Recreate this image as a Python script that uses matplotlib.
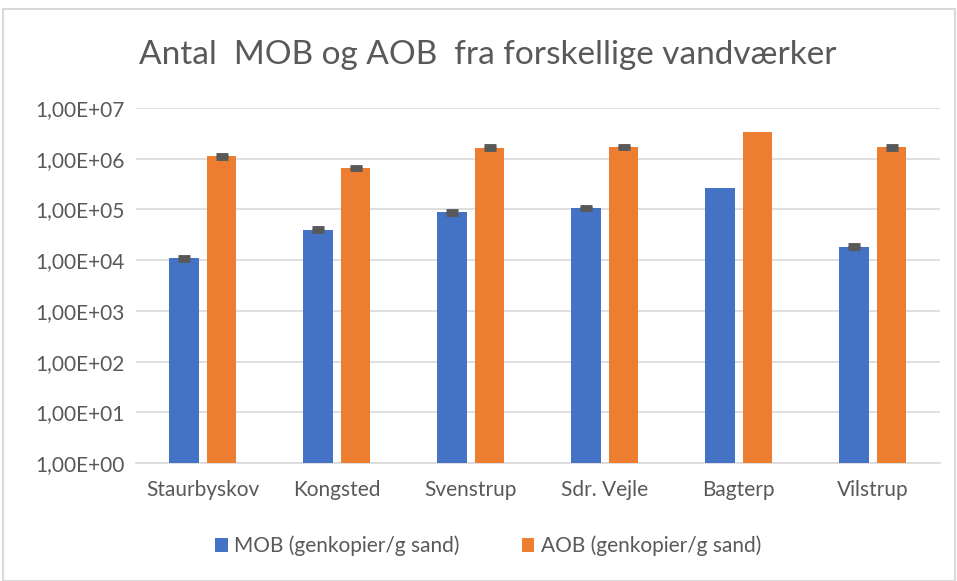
import numpy as np
import matplotlib.pyplot as plt
from matplotlib.ticker import FuncFormatter
from matplotlib.patches import Rectangle

# data
sites = ["Staurbyskov", "Kongsted", "Svenstrup", "Sdr. Vejle", "Bagterp", "Vilstrup"]
mob = [1.09e4, 4.0e4, 8.9e4, 1.07e5, 2.6e5, 1.85e4]
aob = [1.12e6, 6.6e5, 1.65e6, 1.72e6, 3.4e6, 1.68e6]
mob_err = [8e2, 2.5e3, 6e3, 6e3, np.nan, 1.2e3]
aob_err = [7e4, 4e4, 1e5, 1e5, np.nan, 1e5]

blue = "#4472C4"
orange = "#ED7D31"
text_col = "#595959"

plt.rcParams["font.family"] = ["Lato", "DejaVu Sans"]

fig = plt.figure(figsize=(9.57, 5.81), dpi=100)
ax = fig.add_axes([0.142, 0.203, 0.840, 0.611])

x = np.arange(len(sites))
w = 0.22
off = 0.28 / 2
ax.bar(x - off, mob, w, color=blue, label="MOB (genkopier/g sand)", zorder=3)
ax.bar(x + off, aob, w, color=orange, label="AOB (genkopier/g sand)", zorder=3)

# error bars only where there are any (Bagterp has none)
has_err = ~np.isnan(mob_err)
err_kw = dict(fmt="none", ecolor="#595959", capsize=4, capthick=3.5, elinewidth=1, zorder=4)
ax.errorbar(x[has_err] - off, np.array(mob)[has_err], yerr=np.array(mob_err)[has_err], **err_kw)
ax.errorbar(x[has_err] + off, np.array(aob)[has_err], yerr=np.array(aob_err)[has_err], **err_kw)

ax.set_yscale("log")
ax.set_ylim(1, 1e7)
ax.set_xlim(-0.5, len(sites) - 0.5)
ax.set_yticks([10.0 ** k for k in range(8)])
ax.yaxis.set_minor_locator(plt.NullLocator())
ax.yaxis.set_major_formatter(FuncFormatter(lambda v, p: "1,00E+%02d" % round(np.log10(v))))
ax.set_xticks(x)
ax.set_xticklabels(sites)
ax.tick_params(axis="both", length=0, labelsize=15, colors=text_col)
ax.tick_params(axis="x", pad=12)
ax.tick_params(axis="y", pad=8)
ax.grid(axis="y", color="#D9D9D9", lw=1.2, zorder=0)
for s in ["top", "right", "left"]:
    ax.spines[s].set_visible(False)
ax.spines["bottom"].set_color("#D9D9D9")
ax.spines["bottom"].set_linewidth(1.2)

fig.text(0.51, 0.905, "Antal  MOB og AOB  fra forskellige vandværker", fontsize=24,
         color=text_col, ha="center", va="center")

fig.legend(loc="lower center", bbox_to_anchor=(0.51, 0.01), ncol=2, frameon=False,
           fontsize=15, labelcolor=text_col, handlelength=0.6, handleheight=0.6,
           columnspacing=3, handletextpad=0.3)

fig.patches.append(Rectangle((0.003, 0.0), 0.995, 0.985, transform=fig.transFigure,
                             fill=False, edgecolor="#D9D9D9", lw=1.5))

fig.savefig("out.png", dpi=100)
